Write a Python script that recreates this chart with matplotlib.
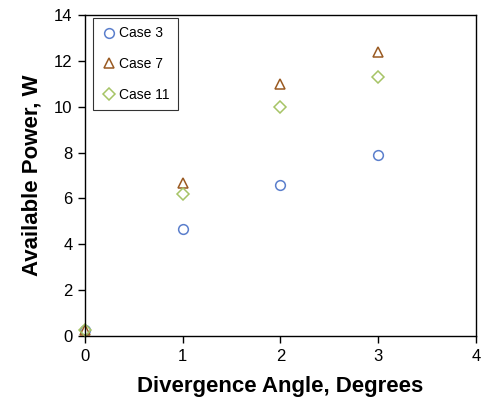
import matplotlib
matplotlib.use('Agg')
from matplotlib import pyplot as plt

plt.rcParams['font.family'] = ['Liberation Sans', 'DejaVu Sans']

# divergence angle, degrees
angle = [0, 1, 2, 3]
# available power, W
case3 = [0.25, 4.65, 6.58, 7.9]
case7 = [0.25, 6.68, 11.0, 12.4]
case11 = [0.25, 6.2, 10.0, 11.3]

fig = plt.figure(figsize=(4.86, 4.03), dpi=100)
ax = fig.add_axes([0.175, 0.166, 0.804, 0.797])

ax.plot(angle, case3, 'o', ms=7, mfc='none', mec='#5b7fcc', mew=1.1, label='Case 3', clip_on=False)
ax.plot(angle, case7, '^', ms=7, mfc='none', mec='#9a5a22', mew=1.1, label='Case 7', clip_on=False)
ax.plot(angle, case11, 'D', ms=6, mfc='none', mec='#a6c466', mew=1.1, label='Case 11', clip_on=False)

ax.set_xlim(0, 4)
ax.set_ylim(0, 14)
ax.set_xticks([0, 1, 2, 3, 4])
ax.set_yticks(range(0, 15, 2))
ax.tick_params(direction='out', length=5, width=1, labelsize=12, pad=4)
for s in ax.spines.values():
    s.set_linewidth(1)

ax.set_xlabel('Divergence Angle, Degrees', fontsize=16, fontweight='bold', labelpad=9)
ax.set_ylabel('Available Power, W', fontsize=16, fontweight='bold', labelpad=8)

leg = ax.legend(loc='upper left', fontsize=10, frameon=True, fancybox=False,
                edgecolor='black', borderpad=0.6, labelspacing=1.2,
                handletextpad=0.2, handlelength=1.1, borderaxespad=0,
                bbox_to_anchor=(0.02, 0.99))
leg.get_frame().set_linewidth(0.8)

fig.savefig('out.png', dpi=100)
